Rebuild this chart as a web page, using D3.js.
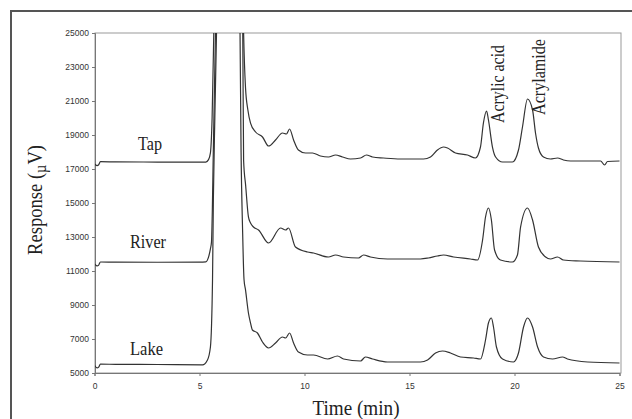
<!DOCTYPE html>
<html><head><meta charset="utf-8">
<script src="https://cdn.jsdelivr.net/npm/d3@7"></script>
<style>body{margin:0;background:#fff}svg{display:block}</style>
</head><body>
<svg id="c" width="632" height="419"></svg>
<script>
// ---- data (time in min, response in µV) ----
const xTicks = [0, 5, 10, 15, 20, 25];
const yTicks = [5000, 7000, 9000, 11000, 13000, 15000, 17000, 19000, 21000, 23000, 25000];
const seriesNames = ["Tap", "River", "Lake"];
const peakNames = ["Acrylic acid", "Acrylamide"];

const tapData = [[0,17300],[0.12,17200],[0.2,17250],[0.28,17430],[1,17420],[3,17410],[5,17400],[5.3,17410],[5.43,17550],[5.52,17950],[5.6,20000],[5.68,25000],[5.75,30000],[7.03,30000],[7.1,25000],[7.19,21800],[7.3,20500],[7.43,19700],[7.67,19176],[8.0,18882],[8.29,18353],[8.62,18706],[8.95,19118],[9.14,19059],[9.29,19353],[9.48,18706],[9.71,18118],[10.05,17941],[10.38,17941],[10.76,17765],[11.14,17706],[11.48,17824],[11.81,17706],[12.19,17588],[12.67,17647],[12.95,17824],[13.24,17706],[13.76,17647],[14.57,17588],[15.67,17588],[16.0,17706],[16.33,18118],[16.62,18294],[16.81,18235],[17.19,17941],[17.76,17824],[18.14,17647],[18.38,18294],[18.52,19706],[18.67,20412],[18.76,19882],[18.95,18294],[19.1,17706],[19.43,17412],[19.9,17412],[20.19,18118],[20.38,19471],[20.62,21118],[20.86,20471],[21.0,19118],[21.14,18235],[21.38,17706],[21.71,17588],[22.05,17647],[22.33,17529],[22.67,17471],[23.48,17471],[24.1,17471],[24.29,17235],[24.43,17440],[25,17471]];

const riverData = [[0,11420],[0.12,11300],[0.2,11350],[0.28,11530],[1,11520],[3,11515],[5,11520],[5.3,11540],[5.43,11820],[5.52,12300],[5.57,12700],[5.61,14500],[5.65,17500],[5.76,25000],[5.85,30000],[6.97,30000],[7.06,25000],[7.1,17500],[7.2,16000],[7.33,14180],[7.43,13824],[7.57,13588],[7.81,13412],[8.29,12647],[8.86,13529],[9.1,13412],[9.24,13529],[9.57,12412],[10.14,12118],[10.43,12059],[11.14,11824],[11.48,11941],[11.86,11824],[12.57,11765],[12.81,11941],[13.14,11824],[13.95,11706],[15.52,11706],[15.9,11765],[16.33,11882],[16.62,11941],[17.1,11824],[17.9,11706],[18.24,11647],[18.48,12824],[18.62,14176],[18.76,14706],[18.9,14000],[19.05,12235],[19.33,11647],[19.9,11529],[20.14,11941],[20.29,13588],[20.62,14706],[20.86,14000],[21.14,12412],[21.48,11824],[21.71,11706],[22.05,11824],[22.33,11647],[23.14,11588],[25,11529]];

const lakeData = [[0,5450],[0.12,5300],[0.2,5350],[0.28,5520],[1,5510],[3,5500],[5.14,5480],[5.38,5770],[5.52,6530],[5.62,10470],[5.66,15200],[5.73,20000],[5.81,25000],[5.9,30000],[6.85,30000],[6.93,25000],[6.98,18000],[7.05,13500],[7.12,10500],[7.19,9900],[7.33,8530],[7.43,7940],[7.52,7529],[7.76,7353],[8.0,6824],[8.29,6471],[8.62,6765],[8.95,7118],[9.1,7059],[9.29,7353],[9.48,6765],[9.71,6235],[10.14,6059],[10.43,6059],[11.1,5824],[11.57,6000],[11.86,5824],[12.67,5706],[12.9,5941],[13.24,5824],[13.95,5647],[15.52,5647],[15.86,5765],[16.24,6176],[16.57,6294],[16.95,6176],[17.43,5941],[18.05,5882],[18.38,5824],[18.62,6941],[18.76,7941],[18.9,8235],[19.0,7706],[19.14,6529],[19.43,5824],[19.95,5647],[20.19,6176],[20.43,7706],[20.62,8235],[20.86,7706],[21.1,6529],[21.38,5941],[21.81,5824],[22.29,5941],[22.52,5824],[23.48,5647],[25,5588]];

// ---- drawing ----
const svg = d3.select("#c");
const L = 95, R = 620, T = 33, B = 373;
const x = d3.scaleLinear().domain([0, 25]).range([L - 0.5, R - 0.5]);
const y = d3.scaleLinear().domain([5000, 25000]).range([B, T]);

// outer frame (extends past the picture on right/bottom)
svg.append("rect").attr("x", 11).attr("y", 11).attr("width", 660).attr("height", 440)
  .attr("fill", "none").attr("stroke", "#555").attr("stroke-width", 2);

// plot frame
svg.append("rect").attr("x", L).attr("y", T).attr("width", R - L + 1).attr("height", B - T)
  .attr("fill", "none").attr("stroke", "#999").attr("stroke-width", 1);

// axes
const yAxis = d3.axisLeft(y).tickValues(yTicks).tickFormat(d3.format("d")).tickSize(3).tickPadding(3);
const gy = svg.append("g").attr("transform", `translate(${L},0)`).call(yAxis);
const xAxis = d3.axisBottom(x).tickValues(xTicks).tickFormat(d3.format("d")).tickSize(3).tickPadding(7);
const gx = svg.append("g").attr("transform", `translate(0,${B})`).call(xAxis);
[gx, gy].forEach(g => {
  g.select(".domain").attr("stroke", "#777");
  g.selectAll(".tick line").attr("stroke", "#777");
  g.selectAll("text").attr("font-family", "'Liberation Sans', Arial, sans-serif")
    .attr("font-size", 8.5).attr("fill", "#333");
});

// clip
svg.append("clipPath").attr("id", "clip").append("rect")
  .attr("x", L).attr("y", T).attr("width", R - L + 1).attr("height", B - T);

const line = d3.line().x(d => x(d[0])).y(d => y(d[1])).curve(d3.curveMonotoneX);
const g = svg.append("g").attr("clip-path", "url(#clip)");
[tapData, riverData, lakeData].forEach(data => {
  g.append("path").datum(data).attr("d", line)
    .attr("fill", "none").attr("stroke", "#333").attr("stroke-width", 1.2)
    .attr("stroke-linejoin", "round");
});

const serif = "'Liberation Serif', 'Times New Roman', serif";
// series labels
const lab = [[seriesNames[0], 138, 150, 24], [seriesNames[1], 130, 248, 36], [seriesNames[2], 130, 355, 33]];
lab.forEach(([t, lx, ly, w]) => {
  svg.append("text").attr("x", lx).attr("y", ly).text(t)
    .attr("font-family", serif).attr("font-size", 19).attr("fill", "#222")
    .attr("textLength", w).attr("lengthAdjust", "spacingAndGlyphs");
});

// peak labels (rotated)
const pk = [[peakNames[0], 504, 123, 78], [peakNames[1], 545, 115, 76]];
pk.forEach(([t, px, py, w]) => {
  svg.append("text").attr("transform", `translate(${px},${py}) rotate(-90)`).text(t)
    .attr("font-family", serif).attr("font-size", 18).attr("fill", "#222")
    .attr("textLength", w).attr("lengthAdjust", "spacingAndGlyphs");
});

// axis titles
svg.append("text").attr("x", 356).attr("y", 415).attr("text-anchor", "middle")
  .attr("font-family", serif).attr("font-size", 22).attr("fill", "#222")
  .attr("textLength", 87).attr("lengthAdjust", "spacingAndGlyphs").text("Time (min)");

const yt = svg.append("text").attr("transform", "translate(42,255) rotate(-90)")
  .attr("font-family", serif).attr("font-size", 22).attr("fill", "#222")
  .attr("textLength", 110).attr("lengthAdjust", "spacingAndGlyphs");
yt.append("tspan").text("Response (");
yt.append("tspan").attr("dy", 4).attr("font-size", 17).text("µ");
yt.append("tspan").attr("dy", -4).text("V)");
</script>
</body></html>
